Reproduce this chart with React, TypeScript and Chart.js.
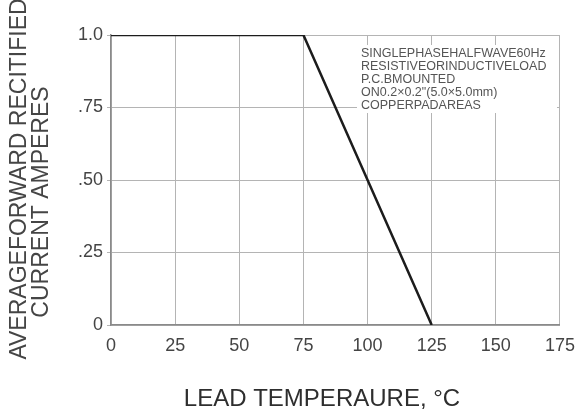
import React, { useEffect, useRef } from "react";
import { Chart, registerables } from "chart.js";

Chart.register(...registerables);

// Data
const tempPoints = [0, 75, 125];
const currentValues = [1.0, 1.0, 0];
const xTickValues = [0, 25, 50, 75, 100, 125, 150, 175];
const yTickValues = [0, 0.25, 0.5, 0.75, 1.0];
const yTickLabels = ["0", ".25", ".50", ".75", "1.0"];
const xTitle = "LEAD TEMPERAURE, \u00B0C";
const yTitleLines = ["AVERAGEFORWARD RECITIFIED", "CURRENT AMPERES"];
const noteLines = [
  "SINGLEPHASEHALFWAVE60Hz",
  "RESISTIVEORINDUCTIVELOAD",
  "P.C.BMOUNTED",
  "ON0.2\u00D70.2\"(5.0\u00D75.0mm)",
  "COPPERPADAREAS",
];

const FONT = "'Liberation Sans', Arial, sans-serif";

const titlesPlugin = {
  id: "customTitles",
  afterDraw(chart: any) {
    const ctx = chart.ctx;
    const area = chart.chartArea;
    ctx.save();
    // x title
    ctx.fillStyle = "#2e2e2e";
    ctx.font = `24px ${FONT}`;
    ctx.textAlign = "center";
    ctx.textBaseline = "middle";
    ctx.fillText(xTitle, 322, 399);
    // y title
    ctx.fillStyle = "#454545";
    ctx.font = `23px ${FONT}`;
    const yCenters = [
      [20, 179],
      [42, 202],
    ];
    yTitleLines.forEach((line, i) => {
      ctx.save();
      ctx.translate(yCenters[i][0], yCenters[i][1]);
      ctx.rotate(-Math.PI / 2);
      ctx.fillText(line, 0, 0);
      ctx.restore();
    });
    // note box
    const bx = 357;
    const by = 45;
    ctx.fillStyle = "#ffffff";
    ctx.fillRect(bx, by, area.right - 3 - bx, 68);
    ctx.fillStyle = "#555555";
    ctx.font = `12.5px ${FONT}`;
    ctx.textAlign = "left";
    ctx.textBaseline = "middle";
    noteLines.forEach((line, i) => {
      ctx.fillText(line, 361, 54 + i * 13);
    });
    ctx.restore();
  },
};

export default function App() {
  const canvasRef = useRef<HTMLCanvasElement | null>(null);

  useEffect(() => {
    if (!canvasRef.current) return;
    const chart = new Chart(canvasRef.current, {
      type: "line",
      data: {
        datasets: [
          {
            data: tempPoints.map((x, i) => ({ x, y: currentValues[i] })),
            borderColor: "#1c1c1c",
            borderWidth: 2.5,
            pointRadius: 0,
            tension: 0,
            fill: false,
          },
        ],
      },
      options: {
        responsive: false,
        animation: false,
        devicePixelRatio: 1,
        layout: { padding: { left: 0, top: 35, right: 25, bottom: 0 } },
        plugins: {
          legend: { display: false },
          tooltip: { enabled: false },
          title: { display: false },
        },
        scales: {
          x: {
            type: "linear",
            min: 0,
            max: 175,
            afterFit: (s: any) => {
              s.height = 93;
            },
            afterBuildTicks: (s: any) => {
              s.ticks = xTickValues.map((v) => ({ value: v }));
            },
            ticks: {
              color: "#444",
              font: { family: FONT, size: 18 },
              padding: 10,
              maxRotation: 0,
              callback: (v: any) => String(v),
            },
            grid: {
              color: "#b4b4b4",
              lineWidth: 1,
              tickLength: 0,
            },
            border: { color: "#8a8a8a", width: 1.5 },
          },
          y: {
            type: "linear",
            min: 0,
            max: 1,
            afterFit: (s: any) => {
              s.width = 111;
            },
            afterBuildTicks: (s: any) => {
              s.ticks = yTickValues.map((v) => ({ value: v }));
            },
            ticks: {
              color: "#444",
              font: { family: FONT, size: 18 },
              padding: 4,
              callback: (v: any) => {
                const idx = yTickValues.indexOf(Number(v));
                return idx >= 0 ? yTickLabels[idx] : "";
              },
            },
            grid: {
              color: "#b4b4b4",
              lineWidth: 1,
              tickLength: 4,
            },
            border: { color: "#8a8a8a", width: 1.5 },
          },
        },
      },
      plugins: [titlesPlugin],
    });
    return () => chart.destroy();
  }, []);

  return (
    <div style={{ position: "absolute", left: 0, top: 0, width: 585, height: 418, background: "#fff" }}>
      <canvas ref={canvasRef} width={585} height={418} />
    </div>
  );
}
